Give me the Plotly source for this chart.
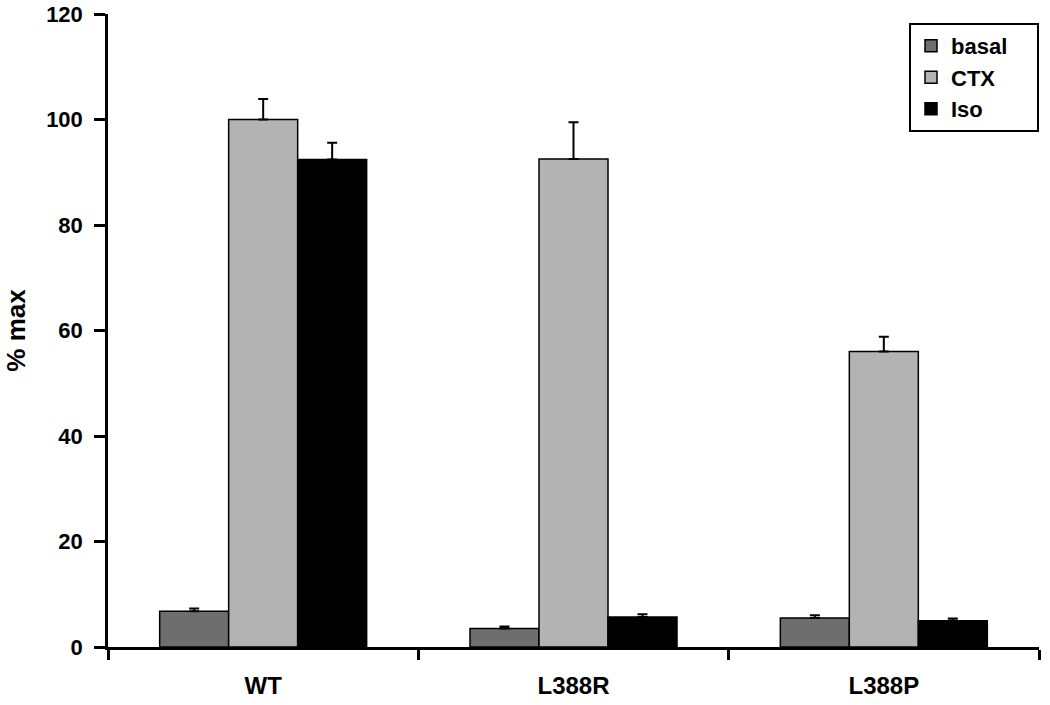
import plotly.graph_objects as go

categories = ["WT", "L388R", "L388P"]
series_names = ["basal", "CTX", "Iso"]
basal = [6.8, 3.5, 5.5]
basal_err = [0.5, 0.4, 0.5]
ctx = [100.0, 92.5, 56.0]
ctx_err = [3.9, 7.0, 2.8]
iso = [92.4, 5.7, 5.0]
iso_err = [3.2, 0.5, 0.4]
colors = ["#6e6e6e", "#b3b3b3", "#000000"]
y_ticks = [0, 20, 40, 60, 80, 100, 120]

font_family = "Liberation Sans, Arial, sans-serif"
pad = "\u00a0" * 4

fig = go.Figure()
for name, vals, errs, col in zip(series_names, [basal, ctx, iso], [basal_err, ctx_err, iso_err], colors):
    fig.add_trace(go.Bar(
        name=name + pad, x=categories, y=vals,
        marker=dict(color=col, line=dict(color="black", width=1.5)),
        error_y=dict(type="data", array=errs, arrayminus=[0]*len(errs), symmetric=False,
                     color="black", thickness=2, width=5),
    ))

fig.update_layout(
    barmode="group", bargap=0.333, bargroupgap=0,
    width=1050, height=705,
    margin=dict(l=108, r=11, t=14, b=58, autoexpand=False),
    paper_bgcolor="white", plot_bgcolor="white",
    font=dict(family=font_family, size=20, color="black"),
    legend=dict(
        x=1.0, y=0.986, xanchor="right", yanchor="top",
        bordercolor="black", borderwidth=2, bgcolor="white",
        font=dict(family=font_family, size=22, color="black", weight="bold"),
        tracegroupgap=0, itemwidth=30,
    ),
    showlegend=True,
)
fig.update_xaxes(
    type="category", range=[-0.5, 2.5], automargin=False,
    showline=True, linecolor="black", linewidth=2.5,
    ticks="outside", tickson="boundaries", ticklen=10, tickwidth=2.5, tickcolor="black",
    ticklabelstandoff=15,
    tickfont=dict(family=font_family, size=24, color="black", weight="bold"),
    showgrid=False, zeroline=False,
)
fig.update_yaxes(
    range=[0, 120], tickvals=y_ticks, automargin=False,
    showline=True, linecolor="black", linewidth=2.5,
    ticks="outside", ticklen=11, tickwidth=2.5, tickcolor="black",
    ticklabelstandoff=7,
    tickfont=dict(family=font_family, size=22, color="black", weight="bold"),
    title=dict(text="% max", font=dict(family=font_family, size=26, color="black", weight="bold"), standoff=14),
    showgrid=False, zeroline=False,
)

fig.write_html("out.html", config={"displayModeBar": False},
               post_script="document.body.style.margin='0';")
